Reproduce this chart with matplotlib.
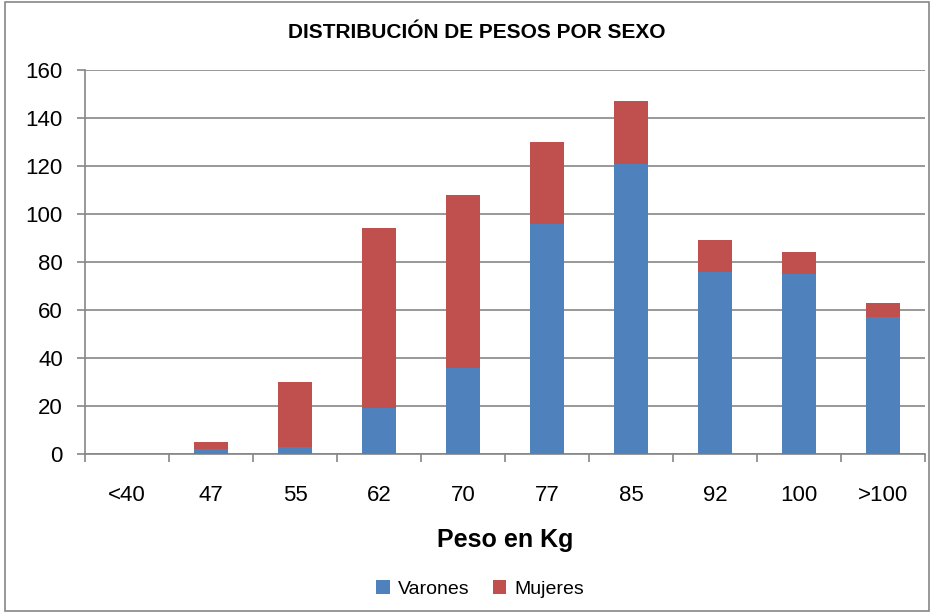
import matplotlib
matplotlib.use("Agg")
import matplotlib.pyplot as plt
from matplotlib.patches import Rectangle
import numpy as np

categories = ["<40", "47", "55", "62", "70", "77", "85", "92", "100", ">100"]
varones = [0, 2, 3, 19, 36, 96, 121, 76, 75, 57]
mujeres = [0, 3, 27, 75, 72, 34, 26, 13, 9, 6]

plt.rcParams['font.family'] = ['Liberation Sans', 'DejaVu Sans']

fig = plt.figure(figsize=(9.31, 6.13), dpi=100)
ax = fig.add_axes([85/931, 1-454/613, 840/931, 384/613])

x = np.arange(len(categories))
blue = "#4F81BD"
red = "#C0504D"
ax.bar(x, varones, width=0.4, color=blue, label="Varones", zorder=3)
ax.bar(x, mujeres, width=0.4, bottom=varones, color=red, label="Mujeres", zorder=3)

ax.set_xlim(-0.5, len(categories) - 0.5)
ax.set_ylim(0, 160)
ax.set_yticks(range(0, 161, 20))
ax.yaxis.grid(True, color="#868686", linewidth=1.2, zorder=0)
ax.set_axisbelow(True)

for s in ["top", "right"]:
    ax.spines[s].set_visible(False)
for s in ["left", "bottom"]:
    ax.spines[s].set_color("#868686")
    ax.spines[s].set_linewidth(1.2)

ax.set_xticks(x)
ax.set_xticklabels(categories)
ax.tick_params(axis="x", length=0, labelsize=16, pad=22)
ax.set_xticks(np.arange(-0.5, len(categories), 1), minor=True)
ax.tick_params(axis="x", which="minor", length=6, color="#868686", width=1.2)
ax.tick_params(axis="y", length=6, color="#868686", width=1.2, labelsize=16, pad=10)

ax.set_xlabel("Peso en Kg", fontsize=18, fontweight="bold", labelpad=16)
fig.text(477/931, 1-32/613, "DISTRIBUCIÓN DE PESOS POR SEXO", ha="center", va="center",
         fontsize=15, fontweight="bold")

ax.legend(loc="center", bbox_to_anchor=(480/931, 1-589/613), bbox_transform=fig.transFigure,
          ncol=2, frameon=False, fontsize=14, handlelength=0.7, handleheight=0.7,
          handletextpad=0.4, columnspacing=1.2)

fig.patches.append(Rectangle((5/931, 2/613), 924/931, 609/613, transform=fig.transFigure,
                             fill=False, edgecolor="#868686", linewidth=1.2))

fig.savefig("out.png", dpi=100)
